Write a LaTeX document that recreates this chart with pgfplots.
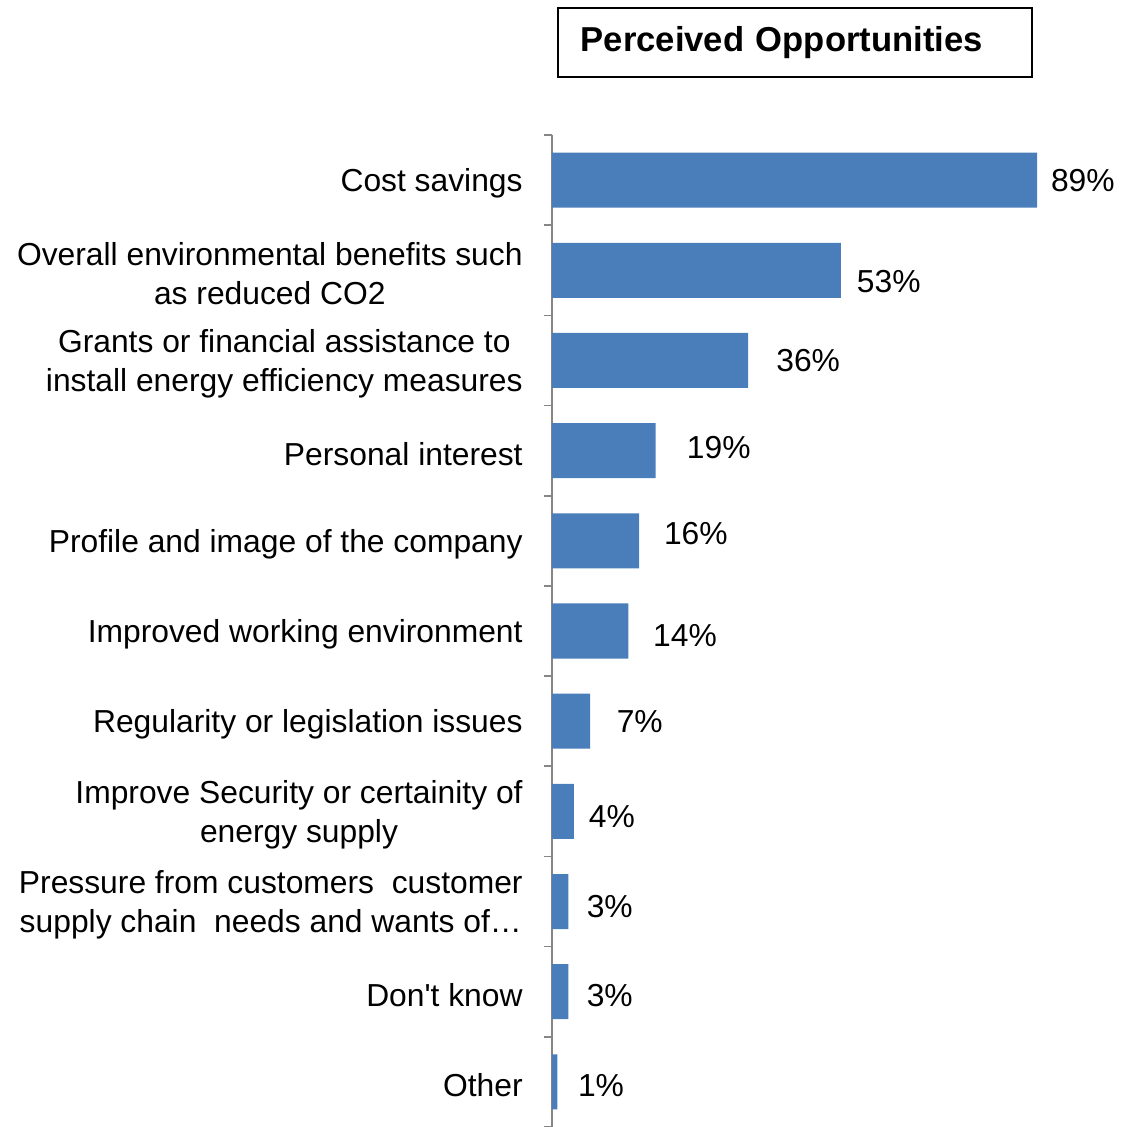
\documentclass[border=0pt]{standalone}
\usepackage{pgfplots}
\pgfplotsset{compat=1.18}
\usepackage{fontspec}
\setmainfont{Liberation Sans}
\definecolor{barblue}{RGB}{74,126,187}
\definecolor{axgray}{RGB}{134,134,134}
\pgfplotstableread{
x y m
97.4 0 89
61.8 1.12 53
47.0 2.0 36
30.6 2.97 19
26.4 3.92 16
24.4 5.05 14
16.1 6.0 7
11.0 7.06 4
10.6 8.06 3
10.6 9.04 3
9.0 10.04 1
}\labtab
\begin{document}
\begin{tikzpicture}
\begin{axis}[
  at={(0,0)}, anchor=south west,
  scale only axis,
  width=272.5pt, height=496pt,
  xmin=0, xmax=100,
  ymin=-0.5, ymax=10.5, y dir=reverse,
  axis x line=none,
  axis y line*=left,
  y axis line style={draw=axgray, line width=0.8pt, -},
  ytick={0,...,10},
  yticklabels={Cost savings,
    Overall environmental benefits such\\as reduced CO2,
    Grants or financial assistance to\\install energy efficiency measures,
    Personal interest,
    Profile and image of the company,
    Improved working environment,
    Regularity or legislation issues,
    Improve Security or certainity of\\energy supply,
    Pressure from customers\ \ customer\\supply chain\ \ needs and wants of…,
    Don\textquotesingle t know,
    Other},
  yticklabel style={font=\fontsize{15.9}{19.5}\selectfont, align=center, inner sep=0pt, xshift=-14.5pt, yshift=-1.5pt},
  major tick length=0pt,
  minor ytick={-0.5,0.5,...,10.5},
  minor tick length=4pt,
  tick align=outside,
  minor tick style={draw=axgray, line width=0.8pt},
  clip=false,
]
\addplot[xbar, bar width=0.61, fill=barblue, draw=none] coordinates {
(89,0) (53,1) (36,2) (19,3) (16,4) (14,5) (7,6) (4,7) (3,8) (3,9) (1,10)};
\addplot[draw=none, mark=none, nodes near coords={\pgfplotspointmeta\%}, point meta=explicit symbolic,
  every node near coord/.append style={anchor=center, font=\fontsize{15.9}{19}\selectfont, inner sep=0pt}]
  table[x=x, y=y, meta=m] {\labtab};
\end{axis}
\node[draw=black, line width=0.8pt, anchor=west, inner xsep=11.5pt, inner ysep=0pt, minimum height=34.5pt, text width=214pt, align=left, font=\fontsize{17.3}{20}\selectfont\bfseries] at (2.5pt,542.25pt) {\raisebox{-1pt}{Perceived Opportunities}};
\pgfresetboundingbox
\path[use as bounding box] (-276pt,0) rectangle (284pt,563.5pt);
\end{tikzpicture}
\end{document}
